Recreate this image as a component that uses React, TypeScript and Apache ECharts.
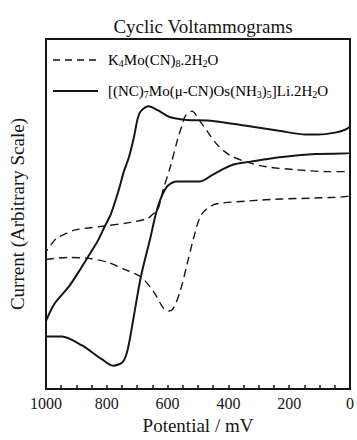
import React, { useEffect, useRef } from "react";
import * as echarts from "echarts";

const titleText = "Cyclic Voltammograms";
const xAxisName = "Potential / mV";
const yAxisName = "Current (Arbitrary Scale)";

// K4Mo(CN)8.2H2O (dashed) — potential (mV) and current (arbitrary units), traced around the loop
const moPotential = [
  1000, 925, 860, 796, 744, 688, 646, 614, 597, 581, 558, 536, 516, 494, 471, 438, 331, 224, 114, 0,
  0, 71, 179, 276, 341, 396, 438, 471, 494, 520, 542, 552, 568, 591, 614, 633, 646, 666, 721, 812, 906, 958, 971, 1000,
];
const moCurrent = [
  133, 135, 134, 130, 123, 115, 100, 83, 80, 83, 101, 128, 153, 176, 185, 190, 193, 195, 196, 199,
  223, 223, 225, 228, 233, 240, 251, 265, 275, 285, 280, 271, 255, 228, 205, 183, 180, 175, 171, 167, 163, 156, 153, 141,
];

// [(NC)7Mo(µ-CN)Os(NH3)5]Li.2H2O (solid)
const osPotential = [
  1000, 948, 883, 818, 779, 747, 731, 711, 688, 656, 640, 623, 601, 568, 494, 451, 386, 331, 224, 114, 0,
  0, 16, 49, 104, 146, 234, 341, 451, 536, 581, 600, 633, 662, 688, 698, 711, 727, 744, 760, 786, 808, 828, 851, 883, 925, 971, 1000,
];
const osCurrent = [
  54, 54, 45, 31, 24, 28, 41, 75, 115, 156, 178, 195, 208, 213, 213, 220, 230, 233, 238, 241, 242,
  269, 266, 263, 261, 261, 265, 270, 275, 276, 278, 280, 286, 290, 285, 278, 258, 238, 223, 205, 180, 166, 153, 141, 125, 105, 88, 70,
];

const SERIF = "'Liberation Serif', 'DejaVu Serif', serif";
const INK = "#161616";

export default function App() {
  const ref = useRef<HTMLDivElement>(null);
  useEffect(() => {
    document.body.style.margin = "0";
    if (!ref.current) return;
    const chart = echarts.init(ref.current, undefined, { renderer: "svg" });
    const moData = moPotential.map((v, i) => [v, moCurrent[i]]);
    const osData = osPotential.map((v, i) => [v, osCurrent[i]]);
    const rich = {
      n: { fontFamily: SERIF, fontSize: 15, color: INK, lineHeight: 16 },
      s: { fontFamily: SERIF, fontSize: 10, color: INK, lineHeight: 10, verticalAlign: "bottom" as const },
    };
    chart.setOption({
      animation: false,
      backgroundColor: "#ffffff",
      title: {
        text: titleText,
        left: 198,
        textAlign: "center",
        top: 12,
        textStyle: { fontFamily: SERIF, fontSize: 19, fontWeight: "normal", color: INK },
      },
      grid: {
        left: 44,
        right: 5,
        top: 39,
        bottom: 42,
        show: true,
        borderColor: INK,
        borderWidth: 2,
        backgroundColor: "transparent",
      },
      xAxis: {
        type: "value",
        inverse: true,
        min: 0,
        max: 1000,
        interval: 200,
        name: xAxisName,
        nameLocation: "middle",
        nameGap: 24,
        nameTextStyle: { fontFamily: SERIF, fontSize: 19, color: INK },
        axisLine: { show: true, lineStyle: { color: INK, width: 2 } },
        axisTick: { show: true, inside: true, length: 4, lineStyle: { color: INK, width: 1.5 } },
        minorTick: { show: true, splitNumber: 4, length: 4, lineStyle: { color: INK, width: 1.5 } },
        axisLabel: {
          fontFamily: SERIF,
          fontSize: 16,
          color: INK,
          margin: 6,
          formatter: (v: number) => String(v),
        },
        splitLine: { show: false },
        minorSplitLine: { show: false },
      },
      yAxis: {
        type: "value",
        min: 0,
        max: 359,
        name: yAxisName,
        nameLocation: "middle",
        nameGap: 19,
        nameTextStyle: { fontFamily: SERIF, fontSize: 19, color: INK },
        axisLine: { show: true, lineStyle: { color: INK, width: 2 } },
        axisTick: { show: false },
        axisLabel: { show: false },
        splitLine: { show: false },
      },
      series: [
        {
          type: "line",
          data: moData,
          showSymbol: false,
          smooth: 0.3,
          lineStyle: { color: INK, width: 1.4, type: [8, 5] },
        },
        {
          type: "line",
          data: osData,
          showSymbol: false,
          smooth: 0.3,
          lineStyle: { color: INK, width: 2 },
        },
      ],
      graphic: [
        { type: "line", shape: { x1: 53, y1: 60, x2: 97, y2: 60 }, style: { stroke: INK, lineWidth: 1.4, lineDash: [7, 5] } },
        {
          type: "text",
          x: 108,
          y: 60,
          style: {
            text: "{n|K}{s|4}{n|Mo(CN)}{s|8}{n|.2H}{s|2}{n|O}",
            rich,
            verticalAlign: "middle",
          },
        },
        { type: "line", shape: { x1: 53, y1: 91, x2: 98, y2: 91 }, style: { stroke: INK, lineWidth: 2 } },
        {
          type: "text",
          x: 108,
          y: 91,
          style: {
            text: "{n|[(NC)}{s|7}{n|Mo(μ-CN)Os(NH}{s|3}{n|)}{s|5}{n|]Li.2H}{s|2}{n|O}",
            rich,
            verticalAlign: "middle",
          },
        },
      ],
    });
    return () => chart.dispose();
  }, []);
  return <div ref={ref} style={{ width: 357, height: 440, position: "fixed", left: 0, top: 0 }} />;
}
